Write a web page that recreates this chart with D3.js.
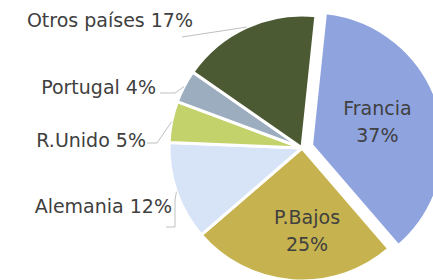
<!DOCTYPE html>
<html><head><meta charset="utf-8">
<script src="https://cdn.jsdelivr.net/npm/d3@7"></script>
<style>html,body{margin:0;padding:0;background:#fff;}svg{display:block;}</style>
</head><body>
<svg id="c" width="433" height="280"></svg>
<script>
const categories = ["Francia", "P.Bajos", "Alemania", "R.Unido", "Portugal", "Otros países"];
const values = [37, 25, 12, 5, 4, 17];
const colors = ["#8fa3df", "#c6b34f", "#d7e4f8", "#c4d26c", "#9cadc0", "#4c5a34"];

const W = 433, H = 280;
const cx = 302, cy = 148, R = 133;
const deg = Math.PI / 180;
const startOffset = 6 * deg;
const svg = d3.select("#c");
const g = svg.append("g").attr("transform", `translate(${cx},${cy})`);

const pie = d3.pie().sort(null).value(d => d.v)
  .startAngle(startOffset).endAngle(startOffset + 2 * Math.PI);
const data = categories.map((c, i) => ({ c, v: values[i], col: colors[i], i }));
const arcs = pie(data);
const arc = d3.arc().innerRadius(0).outerRadius(R);
const explode = [10, 0, 0, 0, 0, 0];

function mid(a) { return (a.startAngle + a.endAngle) / 2; }
function off(a) {
  const m = mid(a), e = explode[a.data.i];
  return [Math.sin(m) * e, -Math.cos(m) * e];
}

g.selectAll("path").data(arcs).join("path")
  .attr("d", arc)
  .attr("transform", d => `translate(${off(d)})`)
  .attr("fill", d => d.data.col)
  .attr("stroke", "#fff").attr("stroke-width", 3).attr("stroke-linejoin", "round");

const font = "'DejaVu Sans', sans-serif";
const txtCol = "#404040";
const fs = 19;

// inside labels (first two slices)
const inner = [
  { k: 0, r: 0.525, shift: -2 },
  { k: 1, r: 0.62, shift: -7.7 }
];
inner.forEach(o => {
  const a = arcs[o.k], m = mid(a) + o.shift * deg, ofs = off(a);
  const x = ofs[0] + Math.sin(m) * R * o.r;
  const y = ofs[1] - Math.cos(m) * R * o.r;
  const t = g.append("text").attr("x", x).attr("y", y)
    .attr("text-anchor", "middle").attr("font-family", font)
    .attr("font-size", fs).attr("fill", txtCol);
  t.append("tspan").attr("x", x).attr("dy", "-0.35em").text(a.data.c);
  t.append("tspan").attr("x", x).attr("dy", "1.42em").text(a.data.v + "%");
});

// outside labels with leader lines
const outside = [
  { k: 5, tx: 193, ty: 27, pts: [[182, 37]] },
  { k: 4, tx: 156, ty: 94, pts: [[160, 93], [175, 93]] },
  { k: 3, tx: 146, ty: 147, pts: [[147, 143], [157, 143]] },
  { k: 2, tx: 172, ty: 213, pts: [[166, 227], [175, 227], [175, 200]] }
];
outside.forEach(o => {
  const a = arcs[o.k], m = mid(a);
  const ex = cx + Math.sin(m) * R, ey = cy - Math.cos(m) * R;
  const pts = o.pts.concat([[ex, ey]]);
  svg.append("path").attr("d", d3.line()(pts))
    .attr("fill", "none").attr("stroke", "#bfbfbf").attr("stroke-width", 1);
  svg.append("text").attr("x", o.tx).attr("y", o.ty)
    .attr("text-anchor", "end").attr("font-family", font)
    .attr("font-size", fs).attr("fill", txtCol)
    .text(a.data.c + " " + a.data.v + "%");
});
</script>
</body></html>
